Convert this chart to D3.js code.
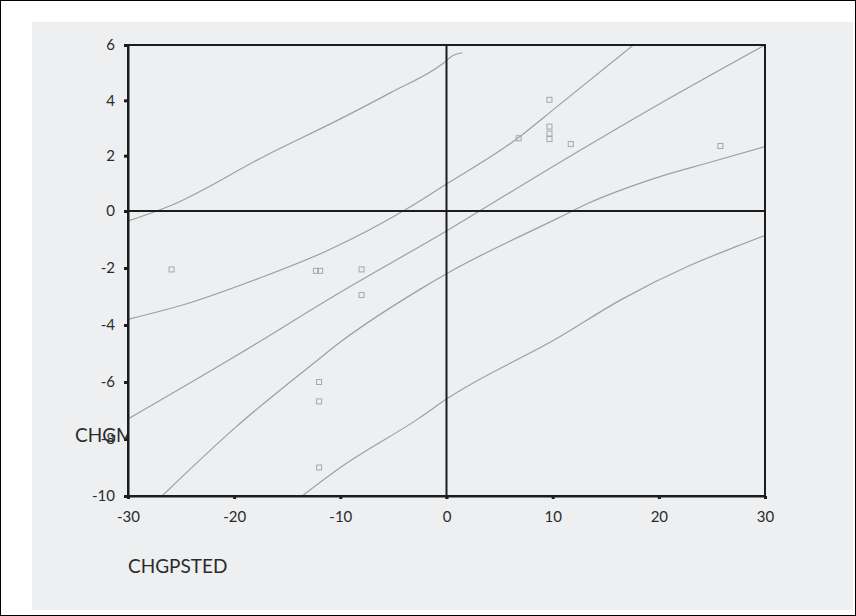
<!DOCTYPE html>
<html lang="en">
<head>
    <meta charset="UTF-8">
    <title>CHGPSTED vs CHGM</title>
    <script src="https://d3js.org/d3.v7.min.js"></script>
    <style>
        body { margin: 0; background: #fff; }
        svg { display: block; }
        .axis text { font-family: Lato, "Open Sans", sans-serif; font-size: 15px; fill: #2b2b2b; }
        .axis path, .axis line { stroke: #1c1c1c; }
        .title { font-family: Lato, "Open Sans", sans-serif; font-size: 19px; fill: #2b2b2b; }
    </style>
</head>
<body>
    <svg width="856" height="616"></svg>

    <script type="text/javascript">
        // Tick labels
        const xTicks = [-30, -20, -10, 0, 10, 20, 30];
        const yTicks = [-10, -8, -6, -4, -2, 0, 2, 4, 6];

        // Observed points (CHGPSTED, CHGM)
        const points = [
            [-25.9, -2.05], [-12.3, -2.1], [-11.9, -2.1], [-8, -2.05], [-8, -2.95],
            [-12, -6.0], [-12, -6.68], [-12, -9.0],
            [6.8, 2.63], [9.7, 4.02], [9.7, 3.05], [9.7, 2.8], [9.7, 2.6],
            [11.7, 2.42], [25.8, 2.35]
        ];

        // Fitted line and the two bands
        const upperPred = [[-30, -0.35], [-25.9, 0.21], [-17.1, 1.99], [-10, 3.33], [-5.3, 4.27], [-0.3, 5.34], [0.6, 5.62], [1.5, 5.72]];
        const upperConf = [[-30, -3.8], [-24, -3.2], [-17.8, -2.38], [-11.4, -1.42], [-3.2, 0.2], [-0.3, 0.9], [6.6, 2.6], [10.5, 3.8], [17.6, 6.0]];
        const fitLine   = [[-30, -7.3], [-19.9, -5.1], [-10, -2.85], [0, -0.7], [10.5, 1.72], [19.6, 3.77], [30, 6.0]];
        const lowerConf = [[-26.8, -10], [-19.9, -7.6], [-12.1, -5.22], [-10, -4.6], [-2.5, -2.75], [0, -2.2], [10.5, -0.25], [13.3, 0.27], [19.6, 1.18], [25, 1.78], [30, 2.33]];
        const lowerPred = [[-13.6, -10], [-10, -9.0], [-2.5, -7.25], [0, -6.6], [10.5, -4.45], [16.5, -3.1], [22.75, -1.94], [27.2, -1.26], [30, -0.86]];

        const width = 856;
        const height = 616;

        const svg = d3.select('svg');

        // scanned page look
        svg.append('rect')
            .attr('x', 0.5).attr('y', 0.5)
            .attr('width', width - 1).attr('height', height - 1)
            .attr('fill', '#fff').attr('stroke', '#000');
        svg.append('rect')
            .attr('x', 32).attr('y', 22)
            .attr('width', 821).attr('height', 588)
            .attr('fill', '#edeff0');

        const x = d3.scaleLinear()
            .domain([-30, 30])
            .range([128, 765]);

        // the scan is a little squeezed above zero
        const y = d3.scaleLinear()
            .domain([-10, 0, 6])
            .range([496, 211, 45]);

        svg.append('clipPath').attr('id', 'plot')
            .append('rect')
            .attr('x', x(-30)).attr('y', y(6))
            .attr('width', x(30) - x(-30)).attr('height', y(-10) - y(6));

        svg.append('clipPath').attr('id', 'ytitle')
            .append('rect')
            .attr('x', 0).attr('y', 0)
            .attr('width', x(-30) - 1).attr('height', height);

        // band lines
        const line = d3.line()
            .x(d => x(d[0]))
            .y(d => y(d[1]))
            .curve(d3.curveMonotoneX);

        svg.append('g')
            .attr('clip-path', 'url(#plot)')
            .selectAll('path')
            .data([upperPred, upperConf, fitLine, lowerConf, lowerPred])
            .join('path')
            .attr('d', line)
            .attr('fill', 'none')
            .attr('stroke', '#9d9fa0')
            .attr('stroke-width', 1.2);

        // points
        svg.append('g')
            .selectAll('rect')
            .data(points)
            .join('rect')
            .attr('x', d => x(d[0]) - 2.5)
            .attr('y', d => y(d[1]) - 2.5)
            .attr('width', 5)
            .attr('height', 5)
            .attr('fill', 'none')
            .attr('stroke', '#a5a7a8')
            .attr('stroke-width', 1);

        // frame and zero lines
        const frame = svg.append('g')
            .attr('stroke', '#1c1c1c')
            .attr('stroke-width', 2)
            .attr('fill', 'none');
        frame.append('rect')
            .attr('x', x(-30)).attr('y', y(6))
            .attr('width', x(30) - x(-30)).attr('height', y(-10) - y(6));
        frame.append('line')
            .attr('x1', x(-30)).attr('x2', x(30))
            .attr('y1', y(0)).attr('y2', y(0));
        frame.append('line')
            .attr('x1', x(0)).attr('x2', x(0))
            .attr('y1', y(6)).attr('y2', y(-10) + 3);

        // axes (plain hyphen for negatives, like the original)
        const fmt = d => String(d);

        const yAxis = svg.append('g')
            .attr('class', 'axis')
            .attr('transform', `translate(${x(-30)},0)`)
            .call(d3.axisLeft(y).tickValues(yTicks).tickFormat(fmt).tickSize(4).tickPadding(9).tickSizeOuter(0));
        yAxis.select('.domain').attr('stroke-width', 2);
        yAxis.selectAll('.tick line').attr('stroke-width', 3);

        const xAxis = svg.append('g')
            .attr('class', 'axis')
            .attr('transform', `translate(0,${y(-10)})`)
            .call(d3.axisBottom(x).tickValues(xTicks).tickFormat(fmt).tickSize(3).tickPadding(12).tickSizeOuter(0));
        xAxis.select('.domain').attr('stroke-width', 2);
        xAxis.selectAll('.tick line').attr('stroke-width', 3);

        // titles
        svg.append('text')
            .attr('class', 'title')
            .attr('clip-path', 'url(#ytitle)')
            .attr('x', 75)
            .attr('y', 442)
            .text('CHGMSTED');

        svg.append('text')
            .attr('class', 'title')
            .attr('x', 128)
            .attr('y', 573)
            .text('CHGPSTED');
    </script>
</body>
</html>
